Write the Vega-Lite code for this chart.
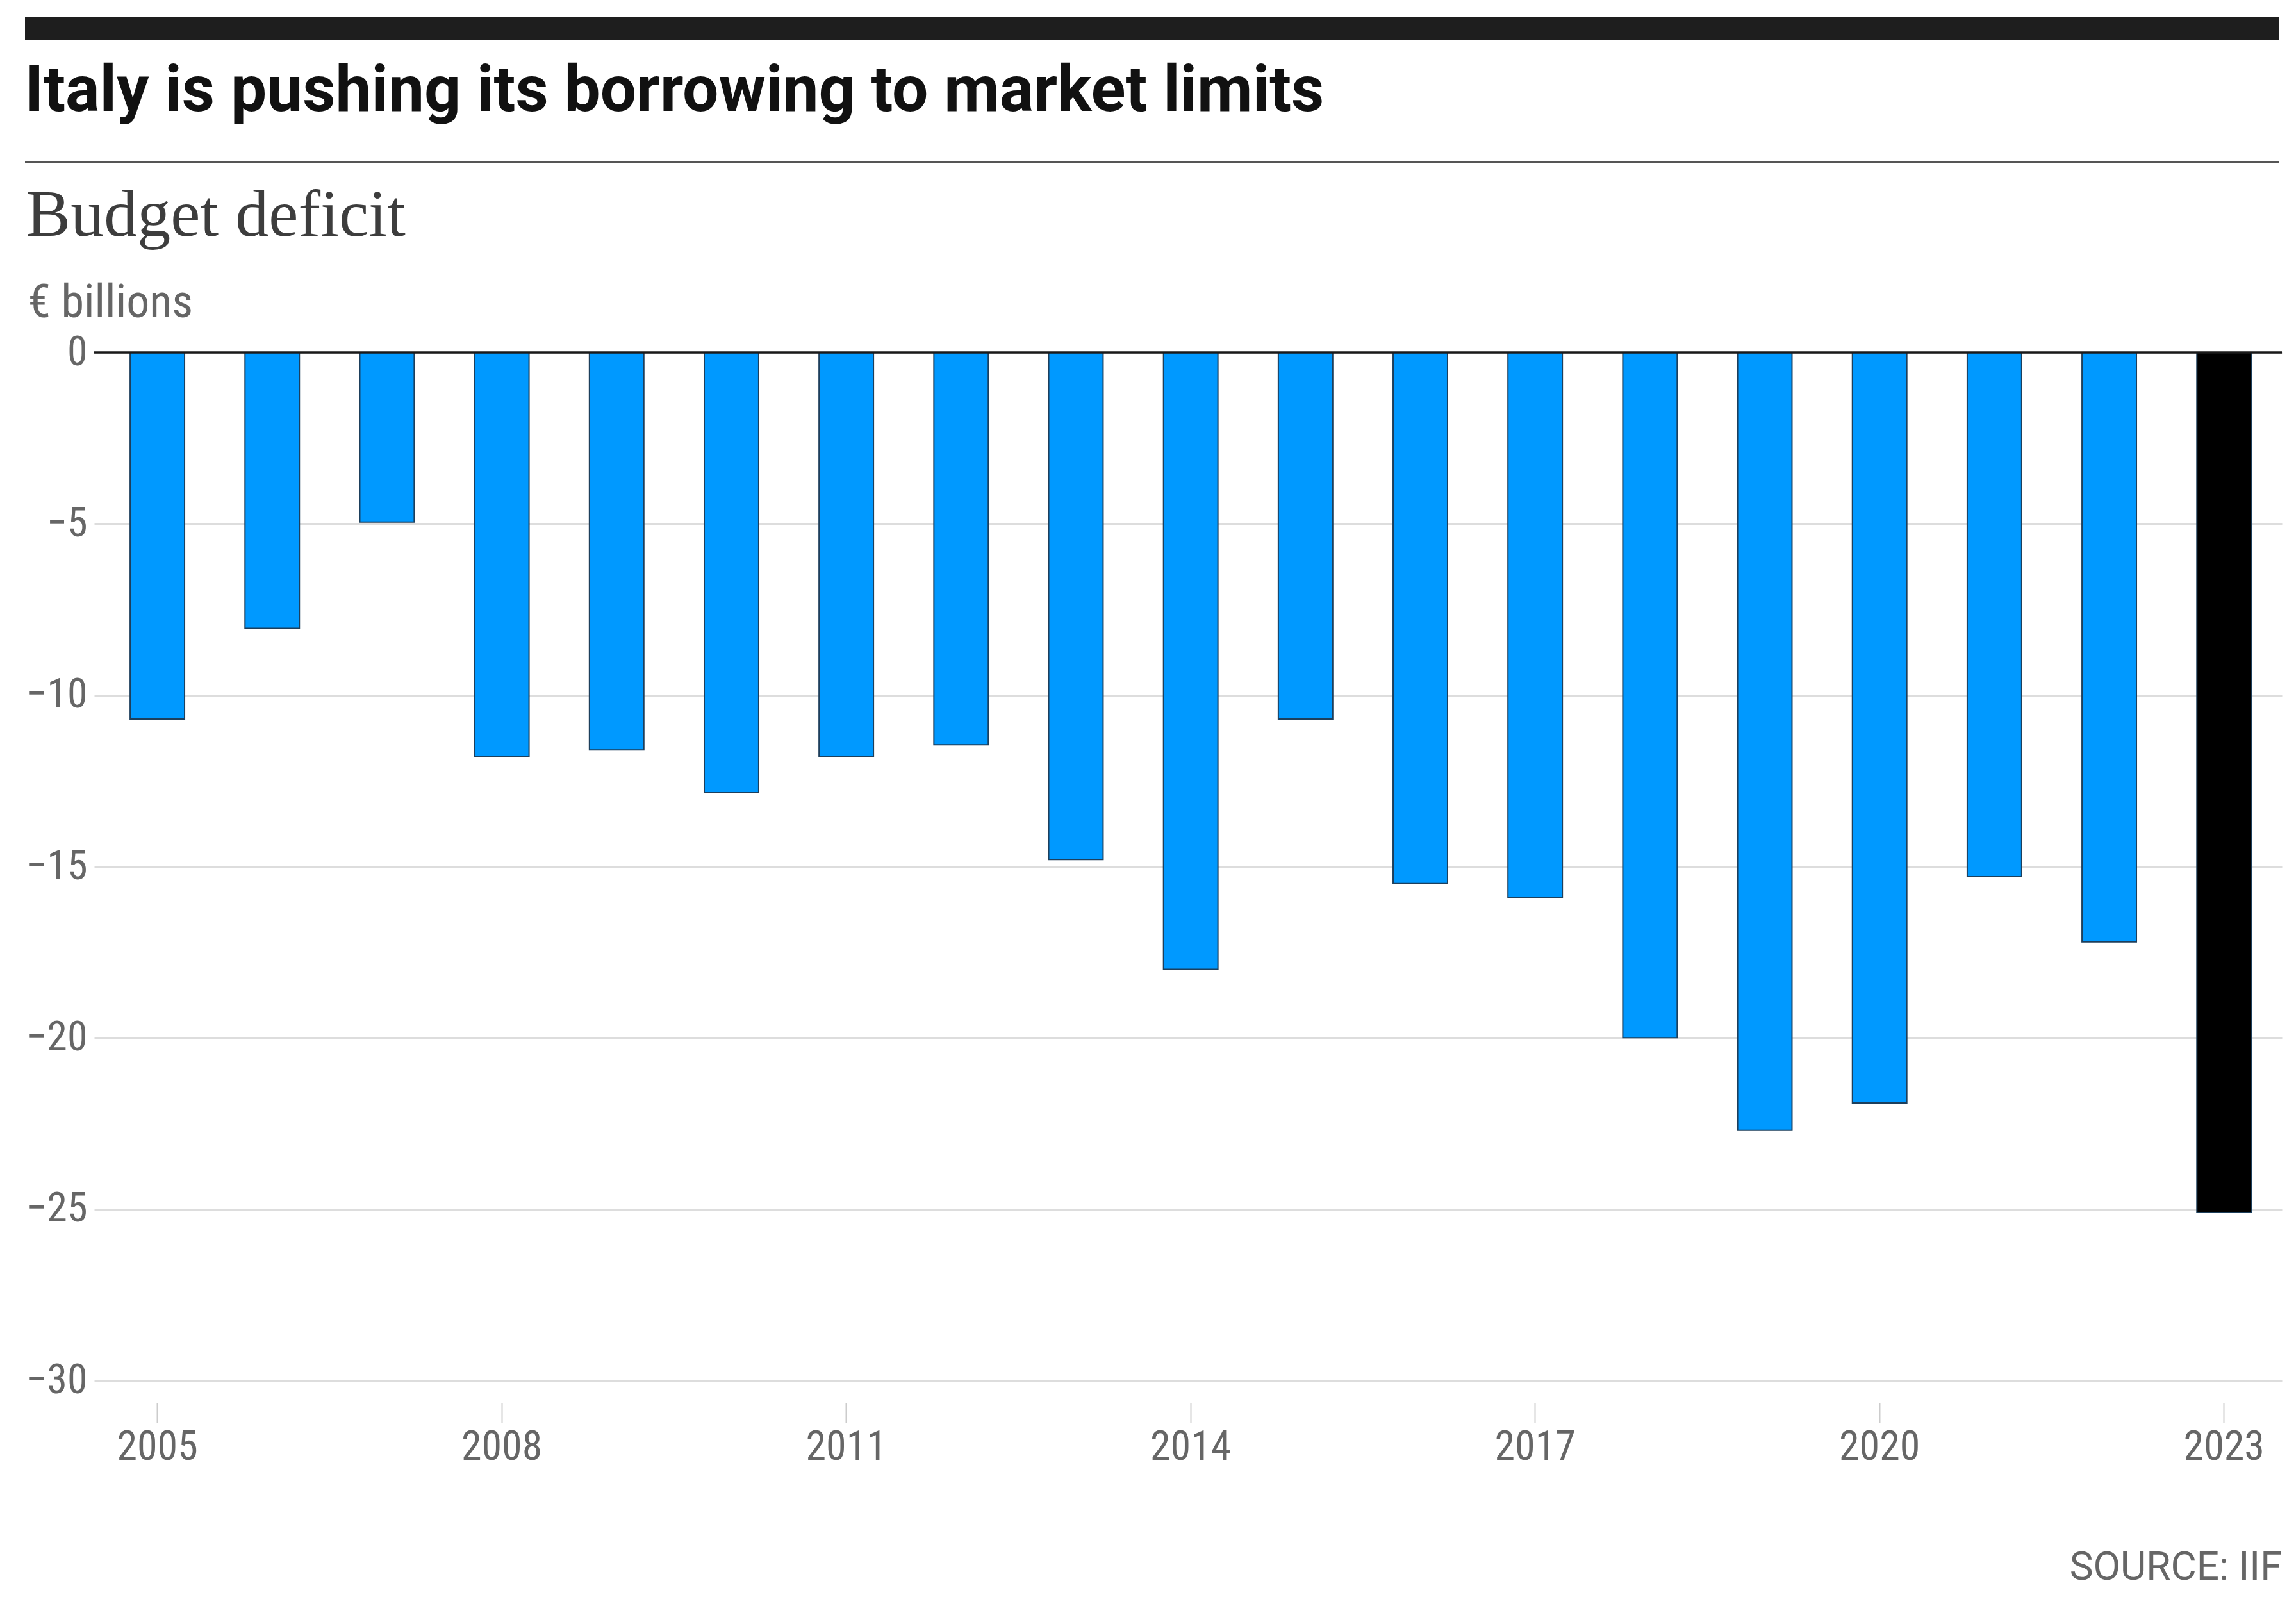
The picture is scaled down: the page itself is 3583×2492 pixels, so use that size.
{
  "$schema": "https://vega.github.io/schema/vega-lite/v6.json",
  "padding": {"left": 39, "top": 27, "right": 24, "bottom": 20},
  "background": "white",
  "columns": 1,
  "spacing": 30,
  "concat": [
    {
      "width": 3517,
      "height": 36,
      "data": {"values": [{"part": "top bar"}]},
      "mark": {"type": "rect", "color": "#1e1e1e"},
      "encoding": {}
    },
    {
      "width": 3517,
      "height": 3,
      "data": {"values": [{"part": "rule"}]},
      "mark": {"type": "rect", "color": "#555555"},
      "encoding": {},
      "title": {
        "text": "Italy is pushing its borrowing to market limits",
        "anchor": "start",
        "font": "Roboto",
        "fontSize": 100,
        "fontWeight": "bold",
        "color": "#111111",
        "offset": 58
      }
    },
    {
      "hconcat": [
        {
          "width": 1,
          "height": 1,
          "data": {"values": [{"part": "spacer"}]},
          "mark": {"type": "rect", "opacity": 0},
          "encoding": {}
        },
        {
          "width": 3414,
          "height": 1604,
          "title": {
            "text": "Budget deficit",
            "anchor": "start",
            "frame": "bounds",
            "font": "Liberation Serif",
            "fontSize": 104,
            "fontWeight": "normal",
            "color": "#3d3d3d",
            "offset": 46
          },
          "data": {
            "values": [
              {"year": 2005, "deficit": -10.7},
              {"year": 2006, "deficit": -8.05},
              {"year": 2007, "deficit": -4.95},
              {"year": 2008, "deficit": -11.8},
              {"year": 2009, "deficit": -11.6},
              {"year": 2010, "deficit": -12.85},
              {"year": 2011, "deficit": -11.8},
              {"year": 2012, "deficit": -11.45},
              {"year": 2013, "deficit": -14.8},
              {"year": 2014, "deficit": -18.0},
              {"year": 2015, "deficit": -10.7},
              {"year": 2016, "deficit": -15.5},
              {"year": 2017, "deficit": -15.9},
              {"year": 2018, "deficit": -20.0},
              {"year": 2019, "deficit": -22.7},
              {"year": 2020, "deficit": -21.9},
              {"year": 2021, "deficit": -15.3},
              {"year": 2022, "deficit": -17.2},
              {"year": 2023, "deficit": -25.1}
            ]
          },
          "layer": [
            {
              "mark": {"type": "bar", "stroke": "#1d3f5c", "strokeWidth": 2},
              "encoding": {
                "x": {
                  "field": "year",
                  "type": "ordinal",
                  "scale": {"paddingInner": 0.526, "paddingOuter": 0.29, "align": 0.54},
                  "axis": {
                    "values": [2005, 2008, 2011, 2014, 2017, 2020, 2023],
                    "labelAngle": 0,
                    "labelFont": "Roboto Condensed, DejaVu Sans Condensed, Liberation Sans Narrow, Roboto, sans-serif",
                    "labelFontSize": 64,
                    "labelColor": "#666666",
                    "labelPadding": 6,
                    "offset": 35,
                    "tickSize": 31,
                    "tickColor": "#cccccc",
                    "tickWidth": 2,
                    "domain": false,
                    "grid": false,
                    "title": "SOURCE: IIF",
                    "titleAnchor": "end",
                    "titleAlign": "right",
                    "titleBaseline": "alphabetic",
                    "titleY": 275,
                    "titleFont": "Roboto, sans-serif",
                    "titleFontSize": 62,
                    "titleFontWeight": "normal",
                    "titleColor": "#666666"
                  }
                },
                "y": {
                  "field": "deficit",
                  "type": "quantitative",
                  "scale": {"domain": [-30, 0], "nice": false},
                  "axis": {
                    "values": [0, -5, -10, -15, -20, -25, -30],
                    "labelExpression": "replace(toString(datum.value), '\u2212', '-')",
                    "labelFont": "Roboto Condensed, DejaVu Sans Condensed, Liberation Sans Narrow, Roboto, sans-serif",
                    "labelFontSize": 64,
                    "labelColor": "#666666",
                    "labelPadding": 11,
                    "ticks": false,
                    "domain": false,
                    "grid": true,
                    "gridColor": "#dddddd",
                    "gridWidth": 3,
                    "title": "€ billions",
                    "titleAngle": 0,
                    "titleAlign": "left",
                    "titleBaseline": "alphabetic",
                    "titleX": -104,
                    "titleY": -56,
                    "titleFont": "Roboto Condensed, DejaVu Sans Condensed, Liberation Sans Narrow, Roboto, sans-serif",
                    "titleFontSize": 72,
                    "titleFontWeight": "normal",
                    "titleColor": "#666666"
                  }
                },
                "color": {
                  "condition": {"test": "datum.year === 2023", "value": "#000000"},
                  "value": "#0099ff"
                }
              }
            },
            {
              "data": {"values": [{"level": 0}]},
              "mark": {"type": "rule", "color": "#1a1a1a", "strokeWidth": 3.5},
              "encoding": {"y": {"field": "level", "type": "quantitative"}}
            }
          ]
        }
      ],
      "spacing": 0
    }
  ],
  "config": {"view": {"stroke": null}}
}
